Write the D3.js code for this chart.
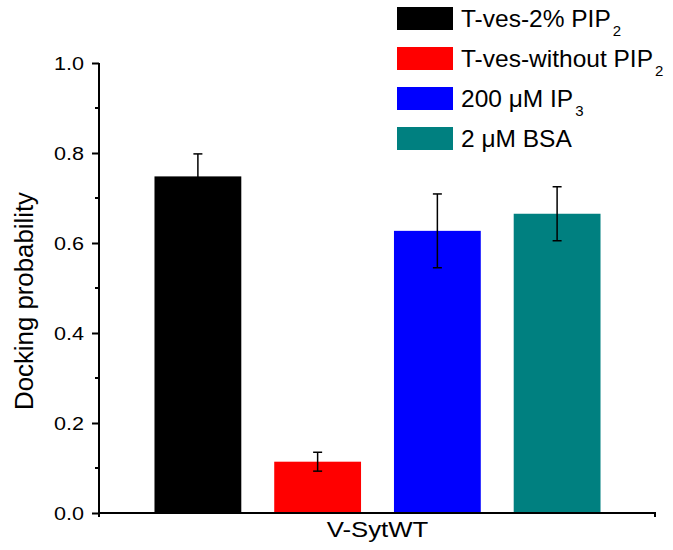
<!DOCTYPE html>
<html>
<head>
<meta charset="utf-8">
<script src="https://cdn.jsdelivr.net/npm/d3@7"></script>
<style>
  body { margin: 0; background: #fff; }
  svg text { font-family: "Liberation Sans", Arial, sans-serif; fill: #000; }
</style>
</head>
<body>
<svg class="chart_svg" width="673" height="550"></svg>
<script>
/* Data */
let categories = ["V-SytWT"];
let series = ["T-ves-2% PIP2", "T-ves-without PIP2", "200 µM IP3", "2 µM BSA"];
let legend_main = ["T-ves-2% PIP", "T-ves-without PIP", "200 \u03bcM IP", "2 \u03bcM BSA"];
let legend_sub = ["2", "2", "3", ""];
let values = [0.748, 0.114, 0.627, 0.665];
let errors = [0.050, 0.021, 0.082, 0.060];
let colors = ["#000000", "#ff0000", "#0000ff", "#008080"];
let y_ticks = [0.0, 0.2, 0.4, 0.6, 0.8, 1.0];
let y_minor = [0.1, 0.3, 0.5, 0.7, 0.9];

let svg = d3.select("svg.chart_svg");

let m_left = 99, m_right = 656, m_top = 63, m_bottom = 513;

let y = d3.scaleLinear().domain([0, 1]).range([m_bottom, m_top]);
let x0 = d3.scaleBand().domain(categories).range([m_left, m_right]).paddingOuter(0.1244);
let x1 = d3.scaleBand().domain(series).range([0, x0.bandwidth()]).paddingInner(0.275);

/* bars */
let g = svg.append("g");
categories.forEach(function (cat) {
    let gg = g.append("g").attr("transform", "translate(" + x0(cat) + ",0)");
    gg.selectAll("rect")
        .data(series)
        .enter()
        .append("rect")
        .attr("x", function (d) { return x1(d); })
        .attr("y", function (d, i) { return y(values[i]); })
        .attr("width", x1.bandwidth())
        .attr("height", function (d, i) { return y(0) - y(values[i]); })
        .attr("fill", function (d, i) { return colors[i]; });

    // error bars
    let eb = gg.selectAll("g.err")
        .data(series)
        .enter()
        .append("g")
        .attr("class", "err")
        .attr("stroke", "#000")
        .attr("stroke-width", 1.5);
    eb.append("line")
        .attr("x1", function (d) { return x1(d) + x1.bandwidth() / 2; })
        .attr("x2", function (d) { return x1(d) + x1.bandwidth() / 2; })
        .attr("y1", function (d, i) { return y(values[i] + errors[i]); })
        .attr("y2", function (d, i) { return y(values[i] - errors[i]); });
    [1, -1].forEach(function (s) {
        eb.append("line")
            .attr("x1", function (d) { return x1(d) + x1.bandwidth() / 2 - 4.5; })
            .attr("x2", function (d) { return x1(d) + x1.bandwidth() / 2 + 4.5; })
            .attr("y1", function (d, i) { return y(values[i] + s * errors[i]); })
            .attr("y2", function (d, i) { return y(values[i] + s * errors[i]); });
    });
});

/* y axis */
let y_axis = svg.append("g")
    .attr("transform", "translate(" + m_left + ",0)")
    .call(d3.axisLeft(y).tickValues(y_ticks).tickSize(7).tickSizeOuter(0).tickFormat(d3.format(".1f")));
y_axis.select(".domain").attr("stroke-width", 2).attr("d", "M0," + m_top + "V" + (m_bottom + 4));
y_axis.selectAll(".tick line").attr("stroke-width", 2);
y_axis.selectAll(".tick text")
    .attr("x", 0)
    .attr("dy", "0.36em")
    .attr("transform", "translate(-15,0) scale(1.2,1)")
    .style("font-size", "18px")
    .style("font-family", "'Liberation Sans', Arial, sans-serif");

y_axis.selectAll("line.minor")
    .data(y_minor)
    .enter()
    .append("line")
    .attr("class", "minor")
    .attr("x1", -4).attr("x2", 0)
    .attr("y1", function (d) { return y(d); })
    .attr("y2", function (d) { return y(d); })
    .attr("stroke", "#000")
    .attr("stroke-width", 2);

/* x axis */
svg.append("line")
    .attr("x1", m_left - 1).attr("x2", m_right)
    .attr("y1", y(0)).attr("y2", y(0))
    .attr("stroke", "#000").attr("stroke-width", 2);
svg.append("line")
    .attr("x1", m_right - 1).attr("x2", m_right - 1)
    .attr("y1", y(0)).attr("y2", y(0) + 4)
    .attr("stroke", "#000").attr("stroke-width", 2);

svg.selectAll("text.xcat")
    .data(categories)
    .enter()
    .append("text")
    .attr("class", "xcat")
    .attr("text-anchor", "middle")
    .attr("transform", function (d) { return "translate(" + (x0(d) + x0.bandwidth() / 2) + ",537) scale(1.2,1)"; })
    .style("font-size", "21.5px")
    .text(function (d) { return d; });

/* y label */
svg.append("text")
    .attr("text-anchor", "middle")
    .attr("transform", "translate(33,301) rotate(-90)")
    .style("font-size", "25.8px")
    .text("Docking probability");

/* legend */
let legend = svg.append("g").attr("transform", "translate(397,7)");
let rows = legend.selectAll("g")
    .data(series)
    .enter()
    .append("g")
    .attr("transform", function (d, i) { return "translate(0," + (i * 40) + ")"; });
rows.append("rect")
    .attr("width", 56).attr("height", 23)
    .attr("fill", function (d, i) { return colors[i]; });
let lt = rows.append("text")
    .attr("x", 64).attr("y", 20)
    .style("font-size", "24.5px");
lt.append("tspan").text(function (d, i) { return legend_main[i]; });
lt.append("tspan")
    .attr("dx", 2).attr("dy", 9)
    .style("font-size", "15px")
    .text(function (d, i) { return legend_sub[i]; });
</script>
</body>
</html>
